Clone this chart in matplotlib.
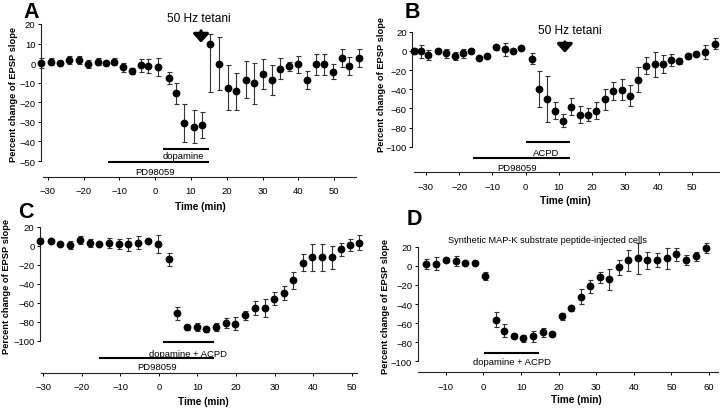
import matplotlib
matplotlib.use("Agg")
import matplotlib.pyplot as plt

plt.rcParams["font.family"] = ["Liberation Sans", "DejaVu Sans"]

# ---------------------------------------------------------------------------
# Data (time in min, percent change of EPSP slope)
# ---------------------------------------------------------------------------
# Panel A: PD98059 + dopamine, then 50 Hz tetani
a_time = [-31.9, -29.2, -26.5, -24.2, -21.3, -18.7, -16.1, -13.8, -11.4, -9.0,
          -6.6, -4.1, -2.1, 0.9, 3.8, 5.7, 8.1, 10.7, 13.1, 15.4,
          17.8, 20.3, 22.7, 25.3, 27.7, 30.1, 32.5, 34.9, 37.4, 39.9,
          42.4, 44.8, 47.2, 49.6, 52.1, 54.1, 56.9]
a_slope = [0, 0.8, 0, 1.7, 1.7, -0.5, 0.8, 0, 0.8, -2.2,
           -4.1, -1.2, -1.4, -2.2, -7.7, -15.4, -30.6, -32.4, -31.6, 9.7,
           -0.2, -12.5, -14.3, -8.4, -10.4, -5.6, -8.7, -2.9, -1.7, -0.7,
           -8.7, -0.7, -0.7, -4.5, 2.6, -1.4, 2.6]
a_err_lo = [2.5, 2, 1, 2, 2, 2, 2, 0.5, 2, 2.5,
            1.5, 3.5, 3.5, 4.6, 3, 5.4, 9.5, 8.6, 6.6, 24.4,
            13.5, 11.5, 9.5, 9.5, 10.5, 7.5, 7.5, 5.4, 2.5, 4.3,
            4.6, 5.6, 5.6, 3.8, 4.8, 4.7, 4.8]
a_err_hi = a_err_lo[:19] + [5.0] + a_err_lo[20:]

# Panel B: PD98059 + ACPD, then 50 Hz tetani
b_time = [-33.5, -31.5, -29.3, -26.4, -24.0, -21.4, -18.9, -16.4, -14.0, -11.5,
          -8.9, -6.3, -3.9, -1.3, 1.8, 3.9, 6.3, 8.7, 11.3, 13.8,
          16.3, 18.9, 21.3, 23.9, 26.4, 28.9, 31.4, 33.9, 36.3, 38.8,
          41.4, 43.8, 46.3, 48.8, 51.3, 54.0, 56.9]
b_slope = [-0.5, -0.5, -4.3, -0.5, -2.6, -5.0, -2.6, -0.5, -7.5, -5.0,
           3.6, 1.5, -0.5, 3.3, -8.2, -39.8, -50.3, -62.4, -72.9, -58.3,
           -66.6, -66.6, -62.4, -50.3, -41.9, -40.5, -46.8, -30.1, -15.5, -14.1,
           -13.7, -9.6, -10.3, -5.4, -3.3, -1.2, 7.5]
b_err = [3, 7, 5, 2, 5, 4, 5, 2, 1.5, 1.5,
         2.5, 6.5, 1.5, 1.5, 6, 19, 24, 9, 7, 9,
         9, 7, 9, 11, 9, 11, 11, 13, 9, 13,
         9, 6, 3, 3, 1.5, 7, 6]

# Panel C: PD98059 + dopamine + ACPD
c_time = [-30.9, -28.1, -25.6, -23.0, -20.4, -17.9, -15.5, -12.9, -10.4, -7.9,
          -5.4, -2.8, -0.3, 2.7, 4.8, 7.3, 9.8, 12.3, 14.7, 17.3,
          19.8, 22.3, 24.8, 27.4, 29.8, 32.4, 34.8, 37.3, 39.8, 42.3,
          44.8, 47.2, 49.7, 52.0]
c_slope = [5.3, 5.3, 1.4, 0.7, 6.0, 3.2, 1.4, 3.2, 1.4, 1.4,
           3.2, 5.3, 1.4, -14.4, -71.2, -86.0, -86.0, -88.1, -85.6, -81.8,
           -82.1, -73.3, -65.6, -65.6, -55.8, -49.8, -36.5, -17.9, -12.3, -12.3,
           -12.3, -3.9, 1.0, 3.2]
c_err = [2.8, 2, 1, 4.4, 4.4, 4.2, 1, 5.3, 5.3, 6.5,
         7, 1.5, 9.6, 7, 7, 3, 4.2, 3, 4.5, 5.3,
         6.7, 4.7, 7.5, 9.6, 7, 7, 8.8, 9.1, 14, 14,
         12.3, 7, 6.1, 7.7]

# Panel D: MAP-K substrate peptide-injected cells, dopamine + ACPD
d_time = [-15.4, -12.7, -10.0, -7.3, -4.9, -2.3, 0.4, 3.3, 5.4, 8.1,
          10.5, 13.1, 15.7, 18.2, 20.8, 23.3, 25.9, 28.4, 30.9, 33.4,
          36.1, 38.5, 41.0, 43.6, 46.2, 48.7, 51.3, 53.8, 56.4, 59.3]
d_slope = [1.7, 2.1, 6.3, 4.9, 2.8, 2.8, -10.5, -56.5, -68.0, -73.9,
           -76.0, -73.9, -69.8, -71.5, -53.0, -44.6, -32.4, -21.6, -12.2, -14.3,
           -1.7, 5.6, 7.7, 5.9, 5.9, 7.7, 11.9, 6.3, 9.8, 18.5]
d_err = [5, 7, 2, 5, 1, 1, 4.5, 8, 7, 2,
         4, 6, 5, 2, 4, 3, 8, 7, 6, 11,
         8, 11, 16, 9, 7, 11, 7, 5, 5, 5]

# drug application bars: (label, start, end)
a_bars = [("dopamine", 2.1, 15.1), ("PD98059", -13.1, 15.1)]
b_bars = [("ACPD", 0.1, 13.4), ("PD98059", -15.7, 13.4)]
c_bars = [("dopamine + ACPD", 1.0, 14.2), ("PD98059", -15.6, 14.2)]
d_bars = [("dopamine + ACPD", 0.1, 14.7)]

# ---------------------------------------------------------------------------
W, H = 720, 410
fig = plt.figure(figsize=(W / 100, H / 100), dpi=100)


def px_rect(left, top, right, bottom):
    return [left / W, 1 - bottom / H, (right - left) / W, (bottom - top) / H]


def fig_text(x, y, s, **kw):
    fig.text(x / W, 1 - y / H, s, **kw)


def panel(rect, xlim, ylim, xticks, yticks, xbounds, ybounds):
    ax = fig.add_axes(rect)
    ax.set_xlim(*xlim)
    ax.set_ylim(*ylim)
    ax.patch.set_visible(False)
    for s in ("top", "right"):
        ax.spines[s].set_visible(False)
    ax.spines["left"].set_bounds(*ybounds)
    ax.spines["bottom"].set_bounds(*xbounds)
    for s in ("left", "bottom"):
        ax.spines[s].set_linewidth(0.8)
        ax.spines[s].set_color("#222222")
    ax.set_xticks(xticks)
    ax.set_yticks(yticks)
    ax.tick_params(axis="y", length=2.5, width=0.7, pad=1.5, labelsize=6.8)
    ax.tick_params(axis="x", length=2.5, width=0.7, pad=4.6, labelsize=6.8)
    return ax


def draw_points(ax, t, v, err):
    ax.errorbar(t, v, yerr=err, fmt="o", ms=4.6, color="black",
                ecolor="#333333", elinewidth=0.8, capsize=1.8, capthick=0.8,
                clip_on=False, zorder=3)


def draw_bars(ax, bars, ys, texts, text_x):
    for (label, t0, t1), yb, yt, tx in zip(bars, ys, texts, text_x):
        ax.plot([t0, t1], [yb, yb], color="black", lw=1.5, clip_on=False,
                solid_capstyle="butt")
        ax.text(tx, yt, label, ha="center", va="center", fontsize=6.8,
                clip_on=False)


def tetani(ax, x, y_tail, y_tip, tx, ty):
    ax.annotate("", xy=(x, y_tip), xytext=(x, y_tail),
                arrowprops=dict(arrowstyle="-|>,head_width=0.5,head_length=0.55",
                                lw=2.4, color="black", mutation_scale=9,
                                shrinkA=0, shrinkB=0),
                annotation_clip=False)
    ax.text(tx, ty, "50 Hz tetani", ha="center", va="center", fontsize=8.6)


# --- Panel A ---------------------------------------------------------------
ax_a = panel(px_rect(41, 23, 360, 177.5), (-31.9, 57.2), (-57.9, 21),
             range(-30, 51, 10), range(-50, 21, 10), (-31.4, 56), (-50, 20))
draw_points(ax_a, a_time, a_slope, [a_err_lo, a_err_hi])
draw_bars(ax_a, a_bars, [-43.9, -50.5], [-47.3, -55.6], [7.9, 0.0])
tetani(ax_a, 12.8, 16.4, 10.4, 12.2, 23.1)

# --- Panel B ---------------------------------------------------------------
ax_b = panel(px_rect(412.3, 30.8, 720, 173.3), (-34.1, 58.5), (-126.7, 22),
             range(-30, 51, 10), range(-100, 21, 20), (-33.7, 58.5), (-100, 20))
draw_points(ax_b, b_time, b_slope, b_err)
draw_bars(ax_b, b_bars, [-95.1, -111.5], [-105.6, -121.2], [6.2, -2.5])
tetani(ax_b, 11.8, 9.2, -2.0, 13.4, 21.8)

# --- Panel C ---------------------------------------------------------------
ax_c = panel(px_rect(40, 225.8, 360, 373.5), (-30.86, 52.17), (-133.5, 22),
             range(-30, 51, 10), range(-100, 21, 20), (-30.5, 51.5), (-100, 20))
draw_points(ax_c, c_time, c_slope, c_err)
draw_bars(ax_c, c_bars, [-101.0, -118.2], [-113.0, -127.7], [7.5, -0.5])

# --- Panel D ---------------------------------------------------------------
ax_d = panel(px_rect(417.7, 245.8, 720, 373.0), (-17.5, 62.9), (-111.2, 22),
             range(-10, 61, 10), range(-100, 21, 20), (-17.4, 62.5), (-100, 20))
draw_points(ax_d, d_time, d_slope, d_err)
draw_bars(ax_d, d_bars, [-91.3], [-100.7], [7.5])
ax_d.text(17.1, 27.3, "Synthetic MAP-K substrate peptide-injected cells",
          ha="center", va="center", fontsize=6.6, clip_on=False)

# --- labels ----------------------------------------------------------------
ylab = "Percent change of EPSP slope"
for x, y in [(14, 95), (381, 85), (7, 287), (386, 307)]:
    fig_text(x, y, ylab, rotation=90, ha="center", va="center",
             fontsize=6.7, fontweight="bold")
for x, y in [(200, 207), (565, 201), (203, 402), (576, 400.5)]:
    fig_text(x, y, "Time (min)", ha="center", va="center",
             fontsize=7.2, fontweight="bold")
for x, y, s in [(31, 12.5, "A"), (412.5, 12.5, "B"), (26, 212.5, "C"), (414, 220, "D")]:
    fig_text(x, y, s, ha="center", va="center", fontsize=15.5,
             fontweight="bold")

fig.savefig("out.png", dpi=100)
